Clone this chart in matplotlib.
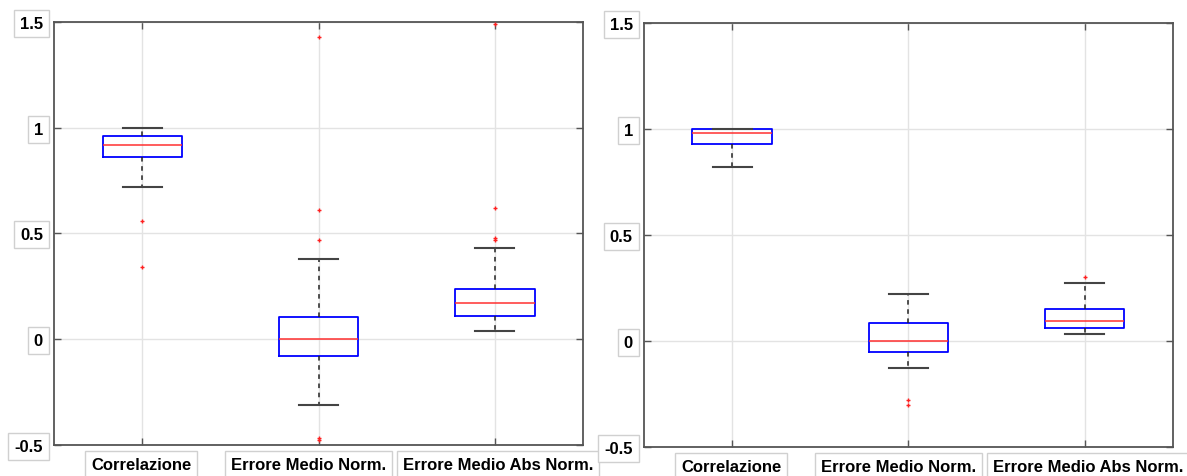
import matplotlib
matplotlib.use("Agg")
import matplotlib.pyplot as plt
import matplotlib.transforms as mtransforms

plt.rcParams['font.family'] = ['Liberation Sans', 'DejaVu Sans']

categories = ["Correlazione", "Errore Medio Norm.", "Errore Medio Abs Norm."]
yticks = [-0.5, 0, 0.5, 1, 1.5]
ytick_labels = ["-0.5", "0", "0.5", "1", "1.5"]

# Left panel: box statistics per category
left_whislo = [0.720, -0.310, 0.041]
left_q1 = [0.860, -0.079, 0.110]
left_med = [0.917, 0.000, 0.170]
left_q3 = [0.961, 0.104, 0.239]
left_whishi = [1.000, 0.381, 0.431]
left_fliers = [[0.561, 0.340],
               [1.430, 0.609, 0.471, -0.465, -0.478],
               [1.490, 0.620, 0.480, 0.470]]

# Right panel: box statistics per category
right_whislo = [0.821, -0.130, 0.030]
right_q1 = [0.926, -0.052, 0.058]
right_med = [0.981, 0.000, 0.091]
right_q3 = [0.998, 0.082, 0.151]
right_whishi = [1.000, 0.220, 0.270]
right_fliers = [[], [-0.280, -0.302], [0.302]]


def build_stats(whislo, q1, med, q3, whishi, fliers):
    return [dict(whislo=a, q1=b, med=c, q3=d, whishi=e, fliers=f, label=lab)
            for a, b, c, d, e, f, lab in zip(whislo, q1, med, q3, whishi, fliers, categories)]


SPINE = "#555555"
GRID = "#e3e3e3"
label_box = dict(boxstyle="square,pad=0.36", fc="white", ec="#d0d0d0", lw=1.0)
x_offsets_px = [-1, -10, 3]


def draw_panel(ax, stats, fig):
    ax.bxp(stats, positions=[1, 2, 3], widths=0.45, showfliers=True,
           boxprops=dict(color="#0000ff", lw=1.3),
           medianprops=dict(color="#ff3030", lw=1.1),
           whiskerprops=dict(color="#222222", lw=1.1, ls=(0, (3, 3))),
           capprops=dict(color="#444444", lw=1.5),
           capwidths=0.22,
           flierprops=dict(marker="+", markeredgecolor="#ff2020", markersize=3,
                           markeredgewidth=1.0, linestyle="none"),
           zorder=3)
    ax.set_xlim(0.5, 3.5)
    ax.set_ylim(-0.5, 1.5)
    ax.set_yticks(yticks)
    ax.set_yticklabels(ytick_labels)
    ax.set_xticks([1, 2, 3])
    ax.set_xticklabels(categories)
    ax.grid(True, color=GRID, lw=1.0, zorder=0)
    ax.set_axisbelow(True)
    for s in ax.spines.values():
        s.set_color(SPINE)
        s.set_linewidth(1.3)
    ax.tick_params(direction="in", length=5, width=1.0, color=SPINE,
                   top=True, right=True, labelsize=12)
    ax.tick_params(axis="y", pad=8)
    ax.tick_params(axis="x", pad=9)
    for lab in ax.get_yticklabels():
        lab.set_fontweight("bold")
        lab.set_bbox(label_box)
    for lab, dx in zip(ax.get_xticklabels(), x_offsets_px):
        lab.set_fontweight("bold")
        lab.set_bbox(label_box)
        lab.set_transform(lab.get_transform() +
                          mtransforms.ScaledTranslation(dx / fig.dpi, 0, fig.dpi_scale_trans))


fig = plt.figure(figsize=(11.87, 4.77), dpi=100)
ax1 = fig.add_axes([0.0455, 0.065, 0.4457, 0.8868])
ax2 = fig.add_axes([0.5425, 0.0614, 0.4457, 0.889])

draw_panel(ax1, build_stats(left_whislo, left_q1, left_med, left_q3, left_whishi, left_fliers), fig)
draw_panel(ax2, build_stats(right_whislo, right_q1, right_med, right_q3, right_whishi, right_fliers), fig)

fig.savefig("out.png", dpi=100)
